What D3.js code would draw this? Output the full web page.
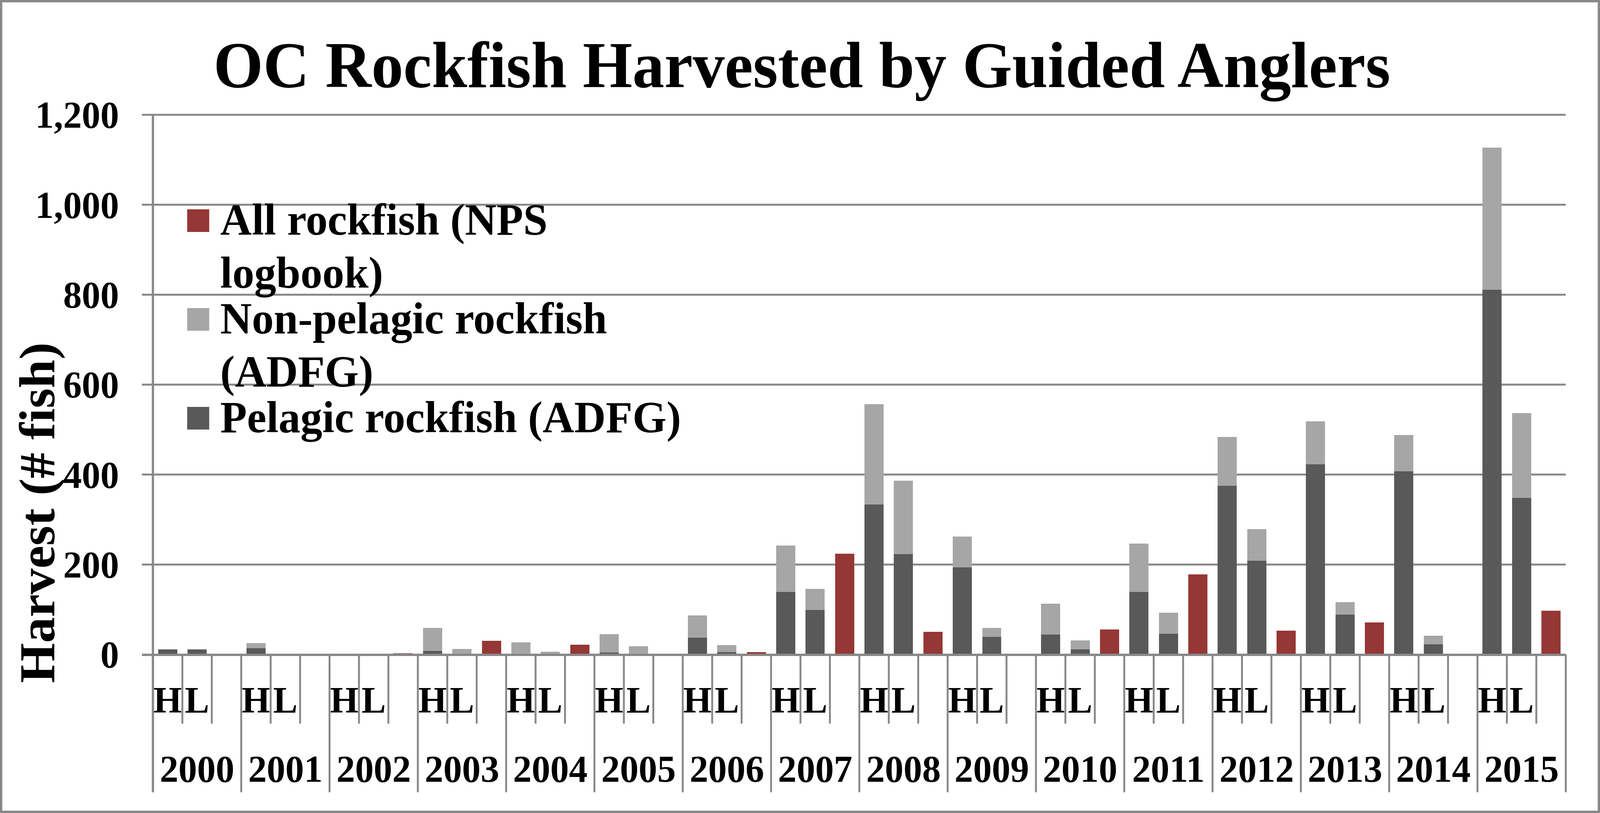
<!DOCTYPE html>
<html>
<head>
<meta charset="utf-8">
<script src="https://cdnjs.cloudflare.com/ajax/libs/d3/7.8.5/d3.min.js"></script>
<style>
  html, body { margin: 0; padding: 0; background: #fff; overflow: hidden; }
  svg { display: block; width: 100vw; height: 100vh; }
  svg text { font-family: "Liberation Serif", "Times New Roman", serif; font-weight: bold; fill: #000; }
</style>
</head>
<body>
<svg id="chart" viewBox="0 0 4206 2082" preserveAspectRatio="none"></svg>
<script>
var years = ['2000', '2001', '2002', '2003', '2004', '2005', '2006', '2007',
             '2008', '2009', '2010', '2011', '2012', '2013', '2014', '2015'];
var subLabels = ['H', 'L', ''];

// pelagic / non-pelagic (ADFG) for H and L, all rockfish (NPS logbook)
var pelagicH    = [11, 14, 0, 8, 0, 4, 37, 139, 333, 194, 44, 139, 375, 423, 407, 811];
var nonPelagicH = [0, 11, 0, 51, 27, 41, 50, 103, 224, 68, 69, 108, 109, 95, 81, 316];
var pelagicL    = [11, 0, 0, 0, 0, 0, 5, 99, 223, 39, 11, 46, 208, 89, 23, 348];
var nonPelagicL = [0, 0, 0, 12, 6, 18, 16, 47, 163, 20, 20, 47, 71, 27, 19, 189];
var npsAll      = [0, 0, 3, 30, 22, 0, 5, 224, 50, 0, 56, 178, 53, 71, 0, 97];

var yTicks = [0, 200, 400, 600, 800, 1000, 1200];

var legendLabels = [['All rockfish (NPS', 'logbook)'],
                    ['Non-pelagic rockfish', '(ADFG)'],
                    ['Pelagic rockfish (ADFG)']];

var colors = { pel: '#595959', non: '#a6a6a6', nps: '#953735' };
var legendKeys = ['nps', 'non', 'pel'];
var gridColor = '#888888';

// plot box (window.top is taken, so prefixed names)
var plotLeft = 402, plotRight = 4116, plotTop = 294, plotBottom = 1676;

var svg = d3.select('#chart');

svg.append('rect')
  .attr('x', 3).attr('y', 3)
  .attr('width', 4200).attr('height', 2076)
  .attr('fill', '#fff')
  .attr('stroke', gridColor)
  .attr('stroke-width', 6);

// one row per slot: H, L, NPS for every year
var rows = [];
years.forEach(function(yr, i){
  rows.push({ key: yr + '-H', sub: subLabels[0], pel: pelagicH[i], non: nonPelagicH[i], nps: 0 });
  rows.push({ key: yr + '-L', sub: subLabels[1], pel: pelagicL[i], non: nonPelagicL[i], nps: 0 });
  rows.push({ key: yr + '-N', sub: subLabels[2], pel: 0, non: 0, nps: npsAll[i] });
});

var x = d3.scaleBand()
  .domain(rows.map(function(d){ return d.key; }))
  .range([plotLeft, plotRight])
  .paddingInner(0.35)
  .paddingOuter(0.175);

var y = d3.scaleLinear().domain([0, 1200]).range([plotBottom, plotTop]);

// gridlines + y labels
svg.append('g').selectAll('line')
  .data(yTicks.slice(1))
  .enter().append('line')
  .attr('x1', plotLeft - 29).attr('x2', plotRight)
  .attr('y1', function(d){ return y(d); })
  .attr('y2', function(d){ return y(d); })
  .attr('stroke', gridColor)
  .attr('stroke-width', 5);

svg.append('g').selectAll('text')
  .data(yTicks)
  .enter().append('text')
  .attr('x', 313)
  .attr('y', function(d){ return y(d); })
  .attr('dy', '0.34em')
  .attr('text-anchor', 'end')
  .attr('font-size', 98)
  .text(d3.format(','));

var stack = d3.stack().keys(['pel', 'non', 'nps']);
var layers = stack(rows);

svg.append('g').selectAll('g')
  .data(layers)
  .enter().append('g')
  .attr('fill', function(d){ return colors[d.key]; })
  .selectAll('rect')
  .data(function(d){ return d; })
  .enter().append('rect')
  .attr('shape-rendering', 'crispEdges')
  .attr('x', function(d){ return x(d.data.key); })
  .attr('width', x.bandwidth())
  .attr('y', function(d){ return y(d[1]); })
  .attr('height', function(d){ return y(d[0]) - y(d[1]); });

// axes and category ticks
var step = x.step();
var axis = svg.append('g').attr('stroke', gridColor);
axis.append('line')
  .attr('x1', plotLeft - 29).attr('x2', plotRight)
  .attr('y1', y(0) + 1).attr('y2', y(0) + 1)
  .attr('stroke-width', 6);
axis.append('line')
  .attr('x1', plotLeft).attr('x2', plotLeft)
  .attr('y1', y(1200) - 2).attr('y2', 2029)
  .attr('stroke-width', 6);
for (var i = 1; i <= rows.length; i++) {
  var bx = plotLeft + i * step;
  axis.append('line')
    .attr('x1', bx).attr('x2', bx)
    .attr('y1', y(0)).attr('y2', i % 3 == 0 ? 2029 : 1853)
    .attr('stroke-width', 5);
}

svg.append('g').selectAll('text')
  .data(rows.filter(function(d){ return d.sub; }))
  .enter().append('text')
  .attr('x', function(d){ return x(d.key) + x.bandwidth() / 2; })
  .attr('y', 1825)
  .attr('text-anchor', 'middle')
  .attr('font-size', 96)
  .text(function(d){ return d.sub; });

svg.append('g').selectAll('text')
  .data(years)
  .enter().append('text')
  .attr('x', function(d, i){ return plotLeft + (i * 3 + 1.5) * step; })
  .attr('y', 2002)
  .attr('text-anchor', 'middle')
  .attr('font-size', 98)
  .text(function(d){ return d; });

// titles
svg.append('text')
  .attr('x', 2108).attr('y', 223)
  .attr('text-anchor', 'middle')
  .attr('font-size', 168)
  .text('OC Rockfish Harvested by Guided Anglers');

svg.append('text')
  .attr('transform', 'translate(143,1313) rotate(-90)')
  .attr('text-anchor', 'middle')
  .attr('font-size', 132)
  .text('Harvest (# fish)');

// legend
var legend = svg.append('g');
legendLabels.forEach(function(lines, k){
  var base = 601 + k * 253;
  legend.append('rect')
    .attr('x', 492).attr('y', base - 65)
    .attr('width', 58).attr('height', 58)
    .attr('fill', colors[legendKeys[k]]);
  var t = legend.append('text')
    .attr('x', 579).attr('y', base)
    .attr('font-size', 115);
  lines.forEach(function(s, j){
    t.append('tspan')
      .attr('x', 579)
      .attr('dy', j == 0 ? 0 : 136)
      .text(s);
  });
});
</script>
</body>
</html>
